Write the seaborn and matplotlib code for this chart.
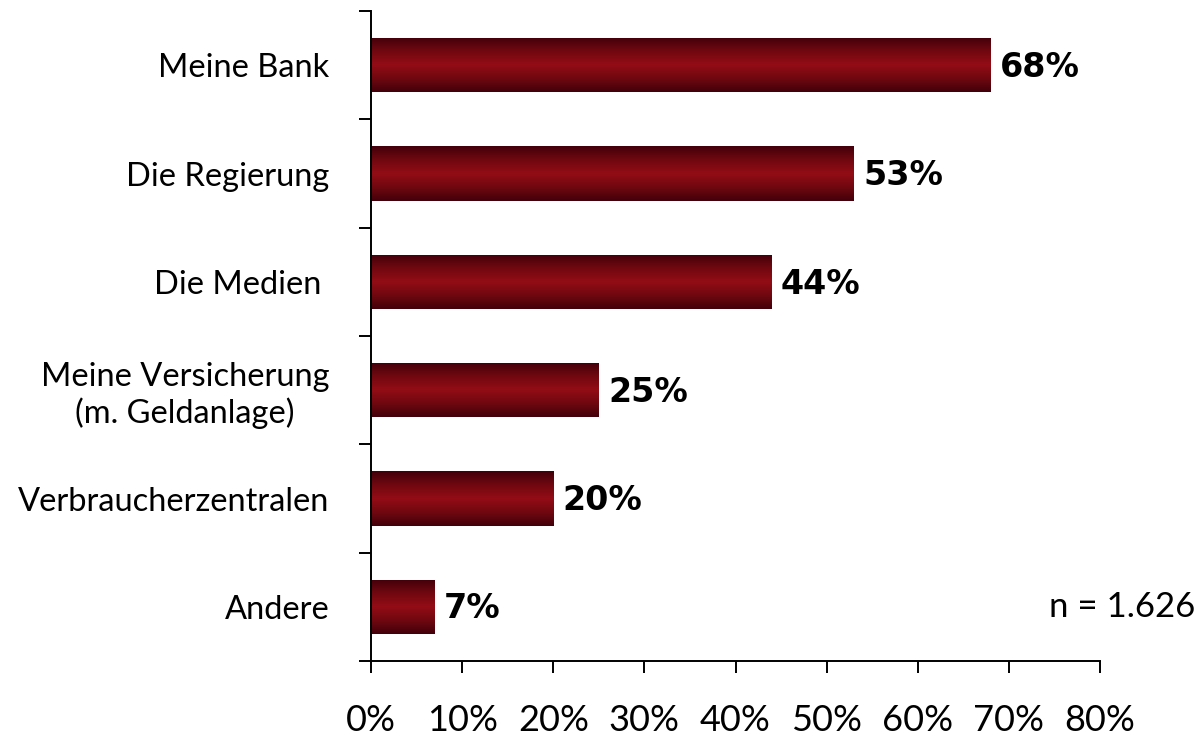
import numpy as np
import pandas as pd
import matplotlib
matplotlib.use("Agg")
import matplotlib.pyplot as plt
import seaborn as sns
from matplotlib.colors import LinearSegmentedColormap

categories = ["Meine Bank", "Die Regierung", "Die Medien ",
              "Meine Versicherung\n(m. Geldanlage)", "Verbraucherzentralen", "Andere"]
values = [68, 53, 44, 25, 20, 7]
value_labels = ["68%", "53%", "44%", "25%", "20%", "7%"]
xticks = [0, 10, 20, 30, 40, 50, 60, 70, 80]
xtick_labels = ["0%", "10%", "20%", "30%", "40%", "50%", "60%", "70%", "80%"]
note = "n = 1.626"

sns.set_theme(style="white")
plt.rcParams['font.family'] = ['Lato', 'DejaVu Sans']
plt.rcParams['text.color'] = 'black'
plt.rcParams['xtick.color'] = 'black'
plt.rcParams['ytick.color'] = 'black'

fig = plt.figure(figsize=(12.02, 7.37), dpi=100)
ax = fig.add_axes([371/1202, 1-661/737, (1100-371)/1202, 650/737])

df = pd.DataFrame({"cat": categories, "val": values})
sns.barplot(data=df, y="cat", x="val", ax=ax, color="#8a0c14", width=0.5,
            orient="h", saturation=1)

cmap = LinearSegmentedColormap.from_list(
    "g", [(0, "#42000a"), (0.25, "#700810"), (0.5, "#920d16"), (0.75, "#700810"), (1, "#42000a")])
grad = np.linspace(0, 1, 256).reshape(-1, 1)
for p in ax.patches:
    x0, y0 = p.get_x(), p.get_y()
    w, h = p.get_width(), p.get_height()
    im = ax.imshow(grad, aspect="auto", cmap=cmap, extent=[x0, x0 + w, y0 + h, y0],
                   zorder=p.get_zorder() + 0.1, interpolation="bilinear")
    im.set_clip_path(p)
    p.set_edgecolor("none")

for i, (v, lab) in enumerate(zip(values, value_labels)):
    ax.text(v + 1.0, i + 0.02, lab, va="center", ha="left", fontsize=24, fontweight="bold",
            family=["DejaVu Sans"], color="black")

ax.set_xlim(0, 80)
ax.set_ylim(5.5, -0.5)
ax.set_xticks(xticks)
ax.set_xticklabels(xtick_labels, fontsize=26)
ax.set_yticks(range(len(categories)))
ax.set_yticklabels(categories, fontsize=23.5, multialignment="center")
ax.set_yticks(np.arange(-0.5, 6, 1), minor=True)
ax.tick_params(axis="y", which="major", left=True, length=0, pad=30, colors="black")
ax.tick_params(axis="y", which="minor", left=True, length=8.8, width=1.4, direction="out", color="black")
ax.tick_params(axis="x", which="major", bottom=True, length=8.8, width=1.4, direction="out",
               color="black", labelcolor="black", pad=22)
ax.set_xlabel("")
ax.set_ylabel("")
for s in ["top", "right"]:
    ax.spines[s].set_visible(False)
for s in ["left", "bottom"]:
    ax.spines[s].set_color("black")
    ax.spines[s].set_linewidth(1.4)

ax.text(1195/1202, 1-607/737, note, transform=fig.transFigure, ha="right", va="center",
        fontsize=25, color="black")

fig.savefig("out.png", dpi=100)
